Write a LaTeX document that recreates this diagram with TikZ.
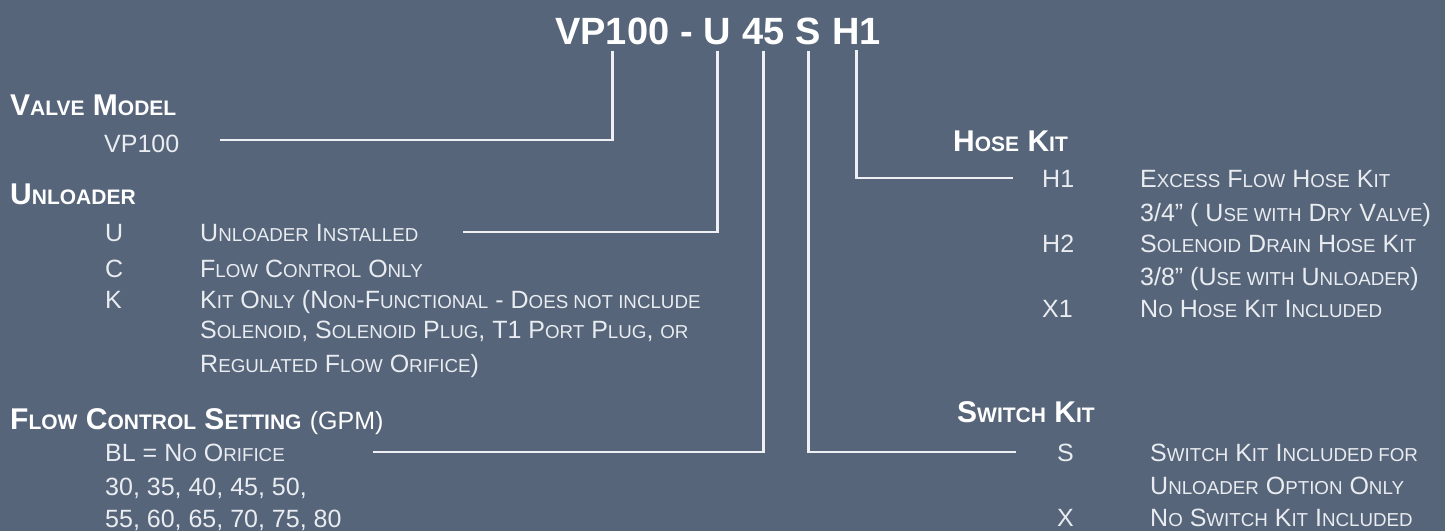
\documentclass[tikz,border=0pt]{standalone}
\usepackage{fontspec}
\setmainfont{Liberation Sans}
\usepackage{graphicx}
\newcommand\smc[1]{\scalebox{0.75}{\MakeUppercase{#1}}}
\newcommand\hsc[1]{\scalebox{0.70}{\MakeUppercase{#1}}}
\definecolor{bg}{HTML}{56657A}
\definecolor{fg}{HTML}{E9ECF0}
\definecolor{lin}{HTML}{EEF0F3}
\begin{document}
\begin{tikzpicture}[x=1pt,y=-1pt,
  txt/.style={anchor=base west, inner sep=0pt, text=fg, font=\fontsize{25}{30}\selectfont},
  hdr/.style={anchor=base west, inner sep=0pt, text=white, font=\fontsize{30}{36}\selectfont\bfseries},
  ttl/.style={anchor=base west, inner sep=0pt, text=white, font=\fontsize{38}{44}\selectfont\bfseries},
  conn/.style={draw=lin, line width=2.6pt}]
\fill[bg] (0,0) rectangle (1445,531);
% title
\node[ttl] (tVP) at (555,44) {VP100};
\node[ttl] (tD) at ([xshift=10.6pt]tVP.base east) {-};
\node[ttl] (tU) at ([xshift=10.6pt]tD.base east) {U};
\node[ttl] (t45) at ([xshift=10.6pt]tU.base east) {45};
\node[ttl] (tS) at ([xshift=10.6pt]t45.base east) {S};
\node[ttl] (tH) at ([xshift=10.6pt]tS.base east) {H1};
% left
\node[hdr] (hVM) at (10,115) {V\hsc{alve} M\hsc{odel}};
\node[txt] (vp) at (104,152) {VP100};
\node[hdr] (hUL) at (10,204) {U\hsc{nloader}};
\node[txt] (kU) at (105,241) {U};
\node[txt] (dU) at (200,241) {U\smc{nloader} I\smc{nstalled}};
\node[txt] (kC) at (105,277) {C};
\node[txt] (dC) at (200,277) {F\smc{low} C\smc{ontrol} O\smc{nly}};
\node[txt] (kK) at (105,308) {K};
\node[txt] (dK1) at (200,308) {K\smc{it} O\smc{nly} (N\smc{on}-F\smc{unctional} - D\smc{oes not include}};
\node[txt] (dK2) at (200,338) {S\smc{olenoid}, S\smc{olenoid} P\smc{lug}, T1 P\smc{ort} P\smc{lug}, \smc{or}};
\node[txt] (dK3) at (200,372) {R\smc{egulated} F\smc{low} O\smc{rifice})};
\node[hdr] (hFC) at (10,429) {F\hsc{low} C\hsc{ontrol} S\hsc{etting} {\mdseries\fontsize{25}{30}\selectfont (GPM)}};
\node[txt] (bl) at (105,461) {BL = N\smc{o} O\smc{rifice}};
\node[txt] (n1) at (105,495) {30, 35, 40, 45, 50,};
\node[txt] (n2) at (105,527) {55, 60, 65, 70, 75, 80};
% right
\node[hdr] (hHK) at (953,151) {H\hsc{ose} K\hsc{it}};
\node[txt] (kH1) at (1042,187) {H1};
\node[txt] (dH1a) at (1140,187) {E\smc{xcess} F\smc{low} H\smc{ose} K\smc{it}};
\node[txt] (dH1b) at (1140,221) {3/4” ( U\smc{se with} D\smc{ry} V\smc{alve})};
\node[txt] (kH2) at (1042,252) {H2};
\node[txt] (dH2a) at (1140,252) {S\smc{olenoid} D\smc{rain} H\smc{ose} K\smc{it}};
\node[txt] (dH2b) at (1140,285) {3/8” (U\smc{se with} U\smc{nloader})};
\node[txt] (kX1) at (1042,317) {X1};
\node[txt] (dX1) at (1140,317) {N\smc{o} H\smc{ose} K\smc{it} I\smc{ncluded}};
\node[hdr] (hSK) at (957,422) {S\hsc{witch} K\hsc{it}};
\node[txt] (kS) at (1057,461) {S};
\node[txt] (dS1) at (1150,461) {S\smc{witch} K\smc{it} I\smc{ncluded for}};
\node[txt] (dS2) at (1150,494) {U\smc{nloader} O\smc{ption} O\smc{nly}};
\node[txt] (kX) at (1057,526) {X};
\node[txt] (dX) at (1150,526) {N\smc{o} S\smc{witch} K\smc{it} I\smc{ncluded}};
% connectors
\coordinate (eVP) at (220,140);
\coordinate (eU) at (463,232);
\coordinate (eFC) at (373,452);
\coordinate (eSK) at (1016,452);
\coordinate (eHK) at (1013,178);
\draw[conn] ([yshift=-6pt]tVP.south) |- (eVP);
\draw[conn] ([yshift=-6pt]tU.south) |- (eU);
\draw[conn] ([yshift=-6pt]t45.south) |- (eFC);
\draw[conn] ([yshift=-6pt]tS.south) |- (eSK);
\draw[conn] ([yshift=-6pt]tH.south) |- (eHK);
\end{tikzpicture}
\end{document}
